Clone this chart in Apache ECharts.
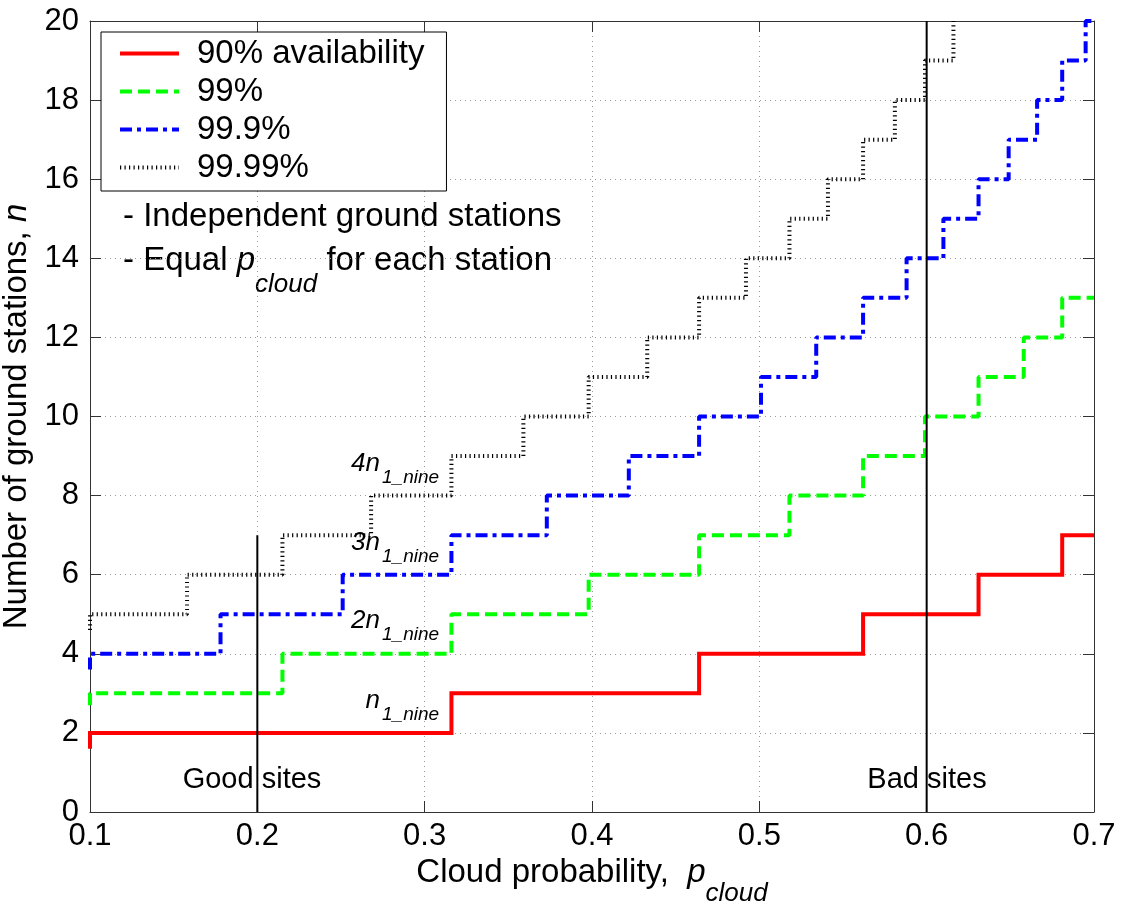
<!DOCTYPE html>
<html>
<head>
<meta charset="utf-8">
<script src="https://cdn.jsdelivr.net/npm/echarts@6/dist/echarts.min.js"></script>
<style>
  html, body { margin: 0; padding: 0; background: #fff; }
  #chart { width: 1122px; height: 907px; }
</style>
</head>
<body>
<div id="chart"></div>
<script>
// Step curves: cloud probability where the required station count changes, and the count from there on
const pCloud90 = [0.1, 0.1, 0.316, 0.464, 0.562, 0.631, 0.681, 0.7];
const stations90 = [1.6, 2, 3, 4, 5, 6, 7, 7];

const pCloud99 = [0.1, 0.1, 0.215, 0.316, 0.398, 0.464, 0.518, 0.562, 0.599, 0.631, 0.658, 0.681, 0.7];
const stations99 = [2.7, 3, 4, 5, 6, 7, 8, 9, 10, 11, 12, 13, 13];

const pCloud999 = [0.1, 0.1, 0.178, 0.251, 0.316, 0.373, 0.422, 0.464, 0.501, 0.534, 0.562, 0.588, 0.610, 0.631, 0.649, 0.666, 0.681, 0.695, 0.7];
const stations999 = [3.6, 4, 5, 6, 7, 8, 9, 10, 11, 12, 13, 14, 15, 16, 17, 18, 19, 20, 20];

const pCloud9999 = [0.1, 0.1, 0.158, 0.215, 0.268, 0.316, 0.359, 0.398, 0.433, 0.464, 0.492, 0.518, 0.541, 0.562, 0.581, 0.599, 0.616];
const stations9999 = [4.6, 5, 6, 7, 8, 9, 10, 11, 12, 13, 14, 15, 16, 17, 18, 19, 20];

const seriesNames = ['90% availability', '99%', '99.9%', '99.99%'];

// Vertical markers separating good and bad sites
const goodSiteP = [0.2, 0.2];
const goodSiteN = [0, 7];
const badSiteP = [0.6, 0.6];
const badSiteN = [0, 20];

// Axis ranges and tick steps
const xRange = [0.1, 0.7];
const xStep = 0.1;
const yRange = [0, 20];
const yStep = 2;

const FONT = '"Liberation Sans", Arial, Helvetica, sans-serif';

function zip(xs, ys) {
  return xs.map((x, i) => [x, ys[i]]);
}

// Lay out a run of text pieces (different fonts / vertical offsets) side by side
const measureCtx = document.createElement('canvas').getContext('2d');
function textRun(pieces) {
  let w = 0;
  const items = pieces.map(p => {
    measureCtx.font = p.font;
    const item = { text: p.text, font: p.font, dy: p.dy || 0, x: w };
    w += measureCtx.measureText(p.text).width;
    return item;
  });
  return { items, width: w };
}
function runElements(run, x0, y0) {
  return run.items.map(it => ({
    type: 'text',
    x: x0 + it.x,
    y: y0 + it.dy,
    silent: true,
    style: { text: it.text, font: it.font, fill: '#000', align: 'left', verticalAlign: 'middle' }
  }));
}

const big = '33px ' + FONT;
const bigItalic = 'italic 33px ' + FONT;
const subItalic = 'italic 26px ' + FONT;
const noteMain = 'italic 26px ' + FONT;
const noteSub = 'italic 19px ' + FONT;

const chart = echarts.init(document.getElementById('chart'), null, { renderer: 'canvas' });

const gridLeft = 90, gridRight = 28, gridTop = 21, gridBottom = 95;
const plotCx = (gridLeft + (1122 - gridRight)) / 2;
const plotCy = (gridTop + (907 - gridBottom)) / 2;

const graphics = [];

// x-axis title
const xName = textRun([
  { text: 'Cloud probability,  ', font: big },
  { text: 'p', font: bigItalic },
  { text: 'cloud', font: subItalic, dy: 21 }
]);
graphics.push(...runElements(xName, plotCx - xName.width / 2, 873));

// y-axis title (rotated, reads bottom to top)
const yName = textRun([
  { text: 'Number of ground stations, ', font: big },
  { text: 'n', font: bigItalic }
]);
graphics.push({
  type: 'group',
  x: 17,
  y: plotCy + yName.width / 2,
  rotation: Math.PI / 2,
  children: runElements(yName, 0, 0)
});

// Notes under the legend
graphics.push(...runElements(textRun([{ text: '- Independent ground stations', font: big }]), 123, 217));
graphics.push(...runElements(textRun([
  { text: '- Equal ', font: big },
  { text: 'p', font: bigItalic },
  { text: 'cloud', font: subItalic, dy: 24 },
  { text: ' for each station', font: big }
]), 123, 261));

// Multiples of n_1_nine
const nineLabels = [
  { main: 'n', y: 701 },
  { main: '2n', y: 621 },
  { main: '3n', y: 543 },
  { main: '4n', y: 464 }
];
nineLabels.forEach(l => {
  graphics.push({
    type: 'text', x: 380, y: l.y, silent: true,
    style: { text: l.main, font: noteMain, fill: '#000', align: 'right', verticalAlign: 'middle' }
  });
  graphics.push({
    type: 'text', x: 382, y: l.y + 14, silent: true,
    style: { text: '1_nine', font: noteSub, fill: '#000', align: 'left', verticalAlign: 'middle' }
  });
});

// Site captions
graphics.push({
  type: 'text', x: 252, y: 780, silent: true,
  style: { text: 'Good sites', font: '29px ' + FONT, fill: '#000', align: 'center', verticalAlign: 'middle' }
});
graphics.push({
  type: 'text', x: 927, y: 780, silent: true,
  style: { text: 'Bad sites', font: '29px ' + FONT, fill: '#000', align: 'center', verticalAlign: 'middle' }
});

const axisColor = '#333';
const gridLineStyle = { color: '#9a9a9a', width: 1, type: [1, 4] };

function frameAxis(base) {
  return Object.assign({
    type: 'value',
    axisLine: { show: true, onZero: false, lineStyle: { color: axisColor, width: 1 } },
    axisTick: { show: true, inside: true, length: 11, lineStyle: { color: axisColor, width: 1 } },
    axisLabel: { show: false },
    splitLine: { show: false }
  }, base);
}

const option = {
  animation: false,
  backgroundColor: '#fff',
  grid: { left: gridLeft, right: gridRight, top: gridTop, bottom: gridBottom, containLabel: false },
  xAxis: [
    frameAxis({
      min: xRange[0], max: xRange[1], interval: xStep, position: 'bottom',
      axisLabel: {
        show: true, fontFamily: FONT, fontSize: 31, color: '#000', margin: 9,
        formatter: v => v.toFixed(1)
      },
      splitLine: { show: true, lineStyle: gridLineStyle }
    }),
    frameAxis({ min: xRange[0], max: xRange[1], interval: xStep, position: 'top' })
  ],
  yAxis: [
    frameAxis({
      min: yRange[0], max: yRange[1], interval: yStep, position: 'left',
      axisLabel: { show: true, fontFamily: FONT, fontSize: 31, color: '#000', margin: 11 },
      splitLine: { show: true, lineStyle: gridLineStyle }
    }),
    frameAxis({ min: yRange[0], max: yRange[1], interval: yStep, position: 'right' })
  ],
  legend: {
    data: seriesNames,
    orient: 'vertical',
    left: 101,
    top: 32,
    padding: [5, 22, 7, 17],
    itemGap: 5,
    itemWidth: 59,
    itemHeight: 14,
    backgroundColor: '#fff',
    borderColor: '#000',
    borderWidth: 1,
    borderRadius: 0,
    selectedMode: false,
    itemStyle: { opacity: 0 },
    lineStyle: { width: 4 },
    textStyle: { fontFamily: FONT, fontSize: 33, color: '#000', padding: [0, 0, 0, 13] }
  },
  series: [
    {
      name: seriesNames[0], type: 'line', step: 'end', symbol: 'none',
      data: zip(pCloud90, stations90),
      itemStyle: { color: '#ff0000' },
      lineStyle: { color: '#ff0000', width: 4, type: 'solid', cap: 'butt', join: 'miter' }
    },
    {
      name: seriesNames[1], type: 'line', step: 'end', symbol: 'none',
      data: zip(pCloud99, stations99),
      itemStyle: { color: '#00ff00' },
      lineStyle: { color: '#00ff00', width: 4, type: [12, 6] }
    },
    {
      name: seriesNames[2], type: 'line', step: 'end', symbol: 'none',
      data: zip(pCloud999, stations999),
      itemStyle: { color: '#0000ff' },
      lineStyle: { color: '#0000ff', width: 4, type: [12, 5, 4, 5] }
    },
    {
      name: seriesNames[3], type: 'line', step: 'end', symbol: 'none',
      data: zip(pCloud9999, stations9999),
      itemStyle: { color: '#000000' },
      lineStyle: { color: '#000000', width: 4, type: [1.2, 3.3] }
    },
    {
      name: 'good-sites', type: 'line', symbol: 'none', silent: true,
      data: zip(goodSiteP, goodSiteN),
      lineStyle: { color: '#000', width: 2 }
    },
    {
      name: 'bad-sites', type: 'line', symbol: 'none', silent: true,
      data: zip(badSiteP, badSiteN),
      lineStyle: { color: '#000', width: 2 }
    }
  ],
  graphic: graphics
};

chart.setOption(option);
</script>
</body>
</html>
